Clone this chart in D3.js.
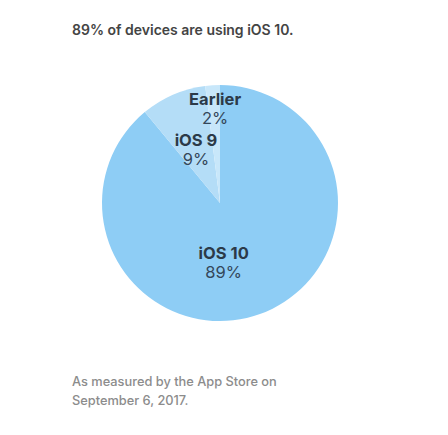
<!DOCTYPE html>
<html>
<head>
<meta charset="utf-8">
<script src="https://cdn.jsdelivr.net/npm/d3@7"></script>
<style>
  body { margin: 0; background: #fff; }
  text { font-family: Inter, "Liberation Sans", sans-serif; }
</style>
</head>
<body>
<svg></svg>
<script>
var width = 448;
var height = 435;

var categories = ["iOS 10", "iOS 9", "Earlier"];
var shares = [89, 9, 2];
var colors = ["#8ecdf5", "#b4ddf7", "#c8e7fa"];

var svg = d3.select("svg")
            .attr("width", width)
            .attr("height", height);

var cx = 220, cy = 203, radius = 118;

// iOS 10 goes clockwise from 12 o'clock, the other two sit left of the top
var pie = d3.pie()
            .sort(null)
            .value(function(d){ return d; });

var arcs = pie(shares);

var arc = d3.arc()
            .innerRadius(0)
            .outerRadius(radius);

var g = svg.append("g")
           .attr("transform", "translate(" + cx + "," + cy + ")");

g.selectAll("path")
    .data(arcs)
    .enter().append("path")
    .attr("d", arc)
    .attr("fill", function(d,i){ return colors[i]; });

// label radius per slice, the small slices push labels outward
var labelRadius = [64, 58, 94];
var labelShift = [-18, -1, 1];

var labels = g.selectAll(".label")
    .data(arcs)
    .enter().append("g")
    .attr("class", "label")
    .attr("transform", function(d,i){
        var a = (d.startAngle + d.endAngle) / 2;
        var r = labelRadius[i];
        return "translate(" + (Math.sin(a) * r + labelShift[i]) + "," + (-Math.cos(a) * r) + ")";
    });

labels.append("text")
    .attr("text-anchor", "middle")
    .attr("y", -4)
    .attr("font-size", 16.5)
    .attr("font-weight", 700)
    .attr("fill", "#2c3a48")
    .text(function(d,i){ return categories[i]; });

labels.append("text")
    .attr("text-anchor", "middle")
    .attr("y", 15)
    .attr("font-size", 16.5)
    .attr("font-weight", 400)
    .attr("fill", "#34475a")
    .text(function(d){ return d.value + "%"; });

svg.append("text")
    .attr("x", 72)
    .attr("y", 35)
    .attr("font-size", 14)
    .attr("font-weight", 600)
    .attr("fill", "#444")
    .text("89% of devices are using iOS 10.");

var footer = svg.append("text")
    .attr("x", 72)
    .attr("y", 386)
    .attr("font-size", 12.8)
    .attr("font-weight", 500)
    .attr("fill", "#8c8c8c");

footer.append("tspan")
    .attr("x", 72)
    .text("As measured by the App Store on");

footer.append("tspan")
    .attr("x", 72)
    .attr("dy", 19)
    .text("September 6, 2017.");
</script>
</body>
</html>
